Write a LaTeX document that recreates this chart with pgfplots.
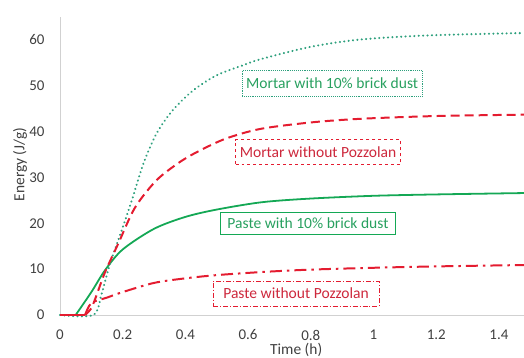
\documentclass[border=0pt]{standalone}
\usepackage{pgfplots}
\pgfplotsset{compat=1.18}
\usepackage{fontspec}
\setmainfont{Carlito}
\definecolor{cgreen}{RGB}{20,168,85}
\definecolor{cdot}{RGB}{45,160,125}
\definecolor{cred}{RGB}{228,28,48}
\definecolor{ctred}{RGB}{205,40,60}
\definecolor{ctgreen}{RGB}{40,160,95}
\definecolor{ctick}{RGB}{64,64,64}
\begin{document}
\begin{tikzpicture}
\path[use as bounding box] (0,0) rectangle (524bp,358bp);
\begin{axis}[
  at={(60bp,43bp)}, anchor=south west,
  scale only axis, width=464bp, height=298bp,
  xmin=0, xmax=1.48, ymin=0, ymax=65,
  axis x line=bottom, axis y line=left,
  axis line style={-, draw=black!18, line width=0.8pt},
  xtick={0,0.2,...,1.4}, ytick={0,10,...,60},
  major tick length=0pt,
  tick label style={font=\fontsize{15}{17}\selectfont, text=ctick},
  /pgf/number format/assume math mode=true,
  xticklabel style={anchor=center, yshift=-20bp},
  yticklabel style={anchor=east, xshift=-12bp},
  xlabel={Time (h)}, ylabel={Energy (J/g)},
  label style={font=\fontsize{15.5}{17}\selectfont, text=ctick},
  xlabel style={at={(axis description cs:0.509,-0.117)}, anchor=center},
  ylabel style={at={(axis description cs:-0.086,0.505)}, anchor=center},
  clip=false,
]
% Paste with 10% brick dust
\addplot[cgreen, line width=1.8pt, smooth, tension=0.5] coordinates {
(0.05,0) (0.1,5) (0.144,9.8) (0.2,14.3) (0.3,18.8) (0.4,21.4) (0.5,23) (0.644,24.6) (0.8,25.4) (1.0,26) (1.2,26.3) (1.48,26.6)};
% Mortar with 10% brick dust
\addplot[cdot, line width=2.3pt, dash pattern=on 0.01pt off 4.4pt, line cap=round, smooth, tension=0.5] coordinates {
(0.0,0) (0.106,0) (0.133,4.7) (0.16,11.3) (0.197,18.5) (0.229,25) (0.266,33) (0.308,39.6) (0.36,44.7) (0.425,49) (0.5,52.3) (0.585,54.5) (0.64,55.8) (0.8,58.5) (0.96,60.1) (1.18,61) (1.48,61.5)};
% Mortar without Pozzolan
\addplot[cred, line width=2pt, dash pattern=on 9bp off 5bp, smooth, tension=0.5] coordinates {
(0.08,0) (0.1,1.5) (0.117,4.4) (0.144,9.4) (0.186,15.6) (0.239,23.4) (0.308,29.4) (0.383,33.4) (0.447,35.9) (0.53,38.5) (0.64,40.6) (0.8,42) (0.96,42.8) (1.2,43.4) (1.48,43.7)};
% Paste without Pozzolan
\addplot[cred, line width=2pt, dash pattern=on 12bp off 5bp on 2.5bp off 5bp, smooth, tension=0.5] coordinates {
(0.08,0) (0.1,2.6) (0.15,3.8) (0.2,5) (0.3,7) (0.4,8) (0.5,8.7) (0.65,9.4) (0.8,9.9) (1.0,10.3) (1.2,10.6) (1.48,10.9)};
% baseline
\addplot[cred, line width=1.6pt] coordinates {(0,0) (0.08,0)};
\node[draw=cdot, densely dotted, line width=0.9pt, text=ctgreen, font=\fontsize{15.6}{18}\selectfont, minimum width=180bp, minimum height=26bp, inner sep=2pt] at (axis cs:0.868,50.5) {Mortar with 10\% brick dust};
\node[draw=cred, dashed, line width=0.9pt, text=ctred, font=\fontsize{15.6}{18}\selectfont, minimum width=165bp, minimum height=25bp, inner sep=2pt] at (axis cs:0.823,35.5) {Mortar without Pozzolan};
\node[draw=cgreen, line width=0.9pt, text=ctgreen, font=\fontsize{15.6}{18}\selectfont, minimum width=175bp, minimum height=22bp, inner sep=2pt] at (axis cs:0.791,20.0) {Paste with 10\% brick dust};
\node[draw=cred, dash pattern=on 5pt off 2pt on 1pt off 2pt, line width=0.9pt, text=ctred, font=\fontsize{15.6}{18}\selectfont, minimum width=166bp, minimum height=25bp, inner sep=2pt] at (axis cs:0.753,4.7) {Paste without Pozzolan};
\end{axis}
\end{tikzpicture}
\end{document}
